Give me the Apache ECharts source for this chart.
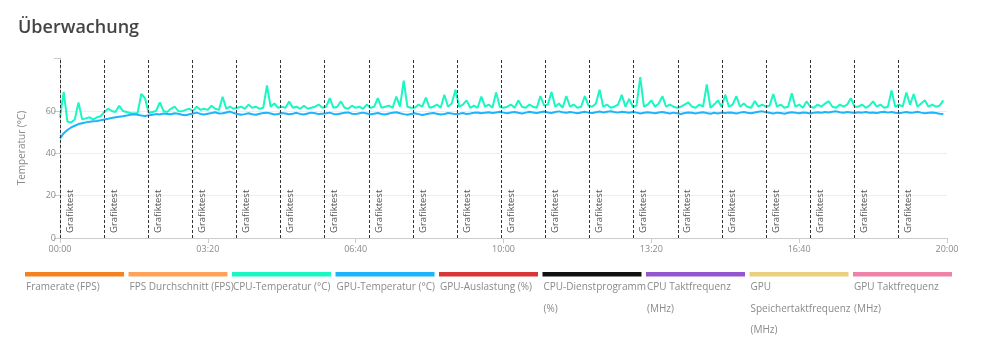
<!DOCTYPE html>
<html>
<head>
<meta charset="utf-8">
<script src="https://cdn.jsdelivr.net/npm/echarts@6/dist/echarts.min.js"></script>
<style>
  html, body { margin: 0; padding: 0; background: #fff; }
  #chart { width: 983px; height: 354px; }
</style>
</head>
<body>
<div id="chart"></div>
<script>
// Zeitachse: Minuten seit Start, alle 5 Minuten ein Messwert
const step = 5

// CPU-Temperatur (°C), eine Zeile = 1 Stunde
const cpuTemp = [
  57, 69, 55, 54.5, 56, 64, 56, 56.5, 57, 56, 57, 57.5,
  59.5, 61, 60, 59.5, 62.4, 60, 59.5, 59, 58.8, 59, 68, 66,
  59, 59.5, 60, 64, 60, 59.5, 61, 62, 60, 59.8, 60.5, 61,
  60, 62, 60.5, 61, 60.5, 62.5, 61, 60.5, 66.7, 61, 62, 61,
  61.5, 62, 61, 63, 61.5, 62, 61, 61.5, 72, 62, 63.5, 61.5,
  62, 61.5, 64.4, 61.5, 62, 61, 62.5, 61, 61.5, 62, 63, 61.5,
  62, 66, 61.5, 62, 64.5, 61.5, 61, 62.5, 61.5, 62, 61, 63,
  61.5, 62, 66, 61.5, 62, 62.5, 61.5, 66.8, 62, 74.3, 62, 61.5,
  61.5, 63, 62, 66.3, 61.5, 62, 63, 61.5, 67.6, 62, 63.5, 70,
  62, 63, 65, 61.5, 62.5, 61.5, 66.8, 62, 63, 61.5, 68.7, 62,
  61.5, 62, 63, 61.5, 65, 62, 61.5, 63, 62, 61.5, 67, 62.5,
  63, 69, 62, 63.5, 61.5, 67, 62, 63, 61.5, 62, 67, 62.5,
  62, 63.5, 70, 62, 63, 61.5, 62, 63, 67.6, 62, 65.7, 62,
  62.5, 76, 62, 63, 65, 62, 63.5, 67, 62, 63, 62, 61.5,
  62, 63, 64, 62, 61.5, 63, 62, 72.5, 61.5, 63, 65, 62,
  67.6, 62, 63, 67, 62, 63.5, 62, 61.5, 64.7, 62, 63, 62,
  62.5, 68, 62, 63, 61.5, 62, 68.4, 62, 63, 61.5, 64.5, 62,
  61.5, 63, 62, 63.5, 64.6, 62, 61.5, 63, 62, 63, 66, 62,
  62, 63, 61.5, 62.5, 64.5, 62, 63, 61.5, 62, 69.7, 62, 63,
  62, 68.7, 63, 68, 62, 63.5, 65, 62, 63, 62, 62.5, 65
]

// GPU-Temperatur (°C)
const gpuTemp = [
  47, 49.5, 51, 52.2, 53, 53.8, 54.2, 54.6, 54.9, 55.1, 55.3, 55.6,
  56, 56.3, 56.7, 57, 57.3, 57.5, 57.8, 58.2, 58.4, 58.2, 57.8, 57.6,
  57.9, 58.2, 58.5, 58.3, 58.8, 58.6, 58.4, 58.9, 58.7, 58.2, 58, 58.4,
  58.8, 59.2, 58.6, 58.3, 58.7, 59, 59.4, 58.8, 58.9, 59.3, 59.7, 59,
  58.6, 58.2, 58.5, 58.9, 58.4, 58.2, 58.7, 59, 59.2, 58.8, 58.3, 58.6,
  59, 58.8, 58.4, 58.7, 59.1, 58.6, 58.3, 58.8, 59.2, 58.9, 58.5, 58.7,
  58.9, 59.2, 58.6, 58.4, 58.8, 59.1, 59.3, 58.7, 58.5, 58.9, 59.2, 58.8,
  58.4, 58.7, 59, 58.6, 58.3, 58.8, 59.2, 59.4, 58.9, 58.5, 58.2, 58.6,
  58.9, 58.5, 58.1, 58.4, 58.8, 59, 58.7, 58.3, 58.6, 59, 58.8, 58.5,
  58.7, 59, 58.6, 58.8, 59.1, 59.3, 58.9, 59.2, 59.4, 59, 59.3, 59.6,
  59.2, 58.9, 59.3, 59.5, 59.1, 58.8, 59.2, 59.6, 59.3, 59, 59.4, 59.7,
  59.3, 59, 59.5, 59.8, 59.4, 59.1, 59.5, 59.2, 58.9, 59.3, 59.6, 59.2,
  59, 59.4, 59.7, 59.3, 59.6, 59.9, 59.5, 59.2, 59.6, 59.4, 59.1, 59.5,
  59.2, 58.8, 59.1, 59.4, 59.2, 58.9, 59.3, 59.5, 59.1, 58.8, 59.2, 58.9,
  58.6, 59, 59.3, 59.1, 58.8, 59.2, 59.4, 59, 58.7, 59.1, 58.8, 59.2,
  59, 59.3, 59.1, 58.8, 59.2, 59.5, 59.1, 58.9, 59.3, 59.6, 59.8, 59.4,
  59.1, 58.8, 59.2, 59, 58.7, 59.1, 59.4, 59.2, 58.9, 59.3, 59.1, 58.8,
  59.2, 59.4, 59.1, 59.5, 59.3, 59.6, 59.8, 59.4, 59.1, 59.5, 59.3, 59,
  59.4, 59.2, 59.5, 59.1, 59.3, 59, 59.4, 59.6, 59.2, 59.5, 59.1, 58.9,
  59.2, 59.5, 59.1, 59.3, 59.6, 59.2, 58.9, 59.1, 59.3, 59, 58.7, 58.5
]

// Start der einzelnen Grafiktests (Minuten)
const testStarts = [0, 59.7, 119.4, 179, 238.8, 298.5, 358, 417.8, 477.5, 537.2,
  597, 656.6, 716.4, 776, 835.8, 895.5, 955.2, 1015, 1074.6, 1134.3]

// Y-Achse: beschriftete Werte
const yLabels = [0, 20, 40, 60]

// Legende
const legendNames = [
  'Framerate (FPS)', 'FPS Durchschnitt (FPS)', 'CPU-Temperatur (°C)', 'GPU-Temperatur (°C)',
  'GPU-Auslastung (%)', 'CPU-Dienstprogramm (%)', 'CPU Taktfrequenz (MHz)',
  'GPU Speichertaktfrequenz (MHz)', 'GPU Taktfrequenz (MHz)'
]
const legendColors = [
  '#f58220', '#ffa35a', '#19f7c2', '#1cb4fc', '#d93636', '#111111', '#9356d0', '#ebcf7d', '#ef82a8'
]

const font = "'Open Sans', sans-serif"

const toPairs = arr => arr.map((v, i) => [i * step, v])

const fmtTime = v => {
  const h = Math.floor(v / 60)
  const m = Math.round(v % 60)
  return String(h).padStart(2, '0') + ':' + String(m).padStart(2, '0')
}

// Legende als Grafik: Balken oben, Text darunter
const legendGraphic = []
legendNames.forEach((name, i) => {
  const x = 25 + i * 103.5
  legendGraphic.push({
    type: 'rect',
    left: x,
    top: 272,
    shape: { width: 99, height: 4.5 },
    style: { fill: legendColors[i] }
  })
  legendGraphic.push({
    type: 'text',
    left: x + 1,
    top: 277,
    style: {
      text: name,
      width: 112,
      overflow: 'break',
      lineHeight: 21.3,
      fill: '#8a8a8a',
      font: '10px ' + font
    }
  })
})

const chart = echarts.init(document.getElementById('chart'))

const option = {
  animation: false,
  textStyle: { fontFamily: font },
  title: {
    text: 'Überwachung',
    left: 13,
    top: 14,
    textStyle: { fontSize: 18, fontWeight: 600, color: '#444', fontFamily: font }
  },
  grid: { left: 60, right: 36, top: 58, bottom: 116 },
  xAxis: {
    type: 'value',
    min: 0,
    max: 1200,
    interval: 200,
    axisLine: { lineStyle: { color: '#cccccc' } },
    axisTick: { show: true, length: 5, lineStyle: { color: '#cccccc' } },
    axisLabel: { color: '#8a8a8a', fontSize: 9, margin: 7, formatter: fmtTime },
    splitLine: { show: false }
  },
  yAxis: {
    type: 'value',
    min: 0,
    max: 85,
    interval: 10,
    name: 'Temperatur (°C)',
    nameLocation: 'middle',
    nameGap: 33,
    nameTextStyle: { color: '#8a8a8a', fontSize: 10 },
    axisLine: { show: true, lineStyle: { color: '#cccccc' } },
    axisTick: { show: true, length: 6, customValues: [0, 20, 40, 60, 85], lineStyle: { color: '#cccccc' } },
    axisLabel: { color: '#8a8a8a', fontSize: 9, margin: 4, customValues: yLabels },
    splitLine: { showMinLine: false, showMaxLine: false, lineStyle: { color: '#eeeeee' } }
  },
  graphic: legendGraphic,
  series: [
    {
      name: 'CPU-Temperatur (°C)',
      type: 'line',
      data: toPairs(cpuTemp),
      showSymbol: false,
      lineStyle: { width: 2, color: legendColors[2] },
      itemStyle: { color: legendColors[2] },
      markLine: {
        silent: true,
        symbol: 'none',
        lineStyle: { type: [3, 2], color: '#333', width: 1 },
        label: {
          show: true,
          formatter: 'Grafiktest',
          position: 'insideStartBottom',
          color: '#555',
          fontSize: 9.5,
          fontFamily: font
        },
        data: testStarts.map(t => ({ xAxis: t }))
      },
      z: 2
    },
    {
      name: 'GPU-Temperatur (°C)',
      type: 'line',
      data: toPairs(gpuTemp),
      showSymbol: false,
      lineStyle: { width: 2, color: legendColors[3] },
      itemStyle: { color: legendColors[3] },
      z: 3
    }
  ]
}

chart.setOption(option)
</script>
</body>
</html>
